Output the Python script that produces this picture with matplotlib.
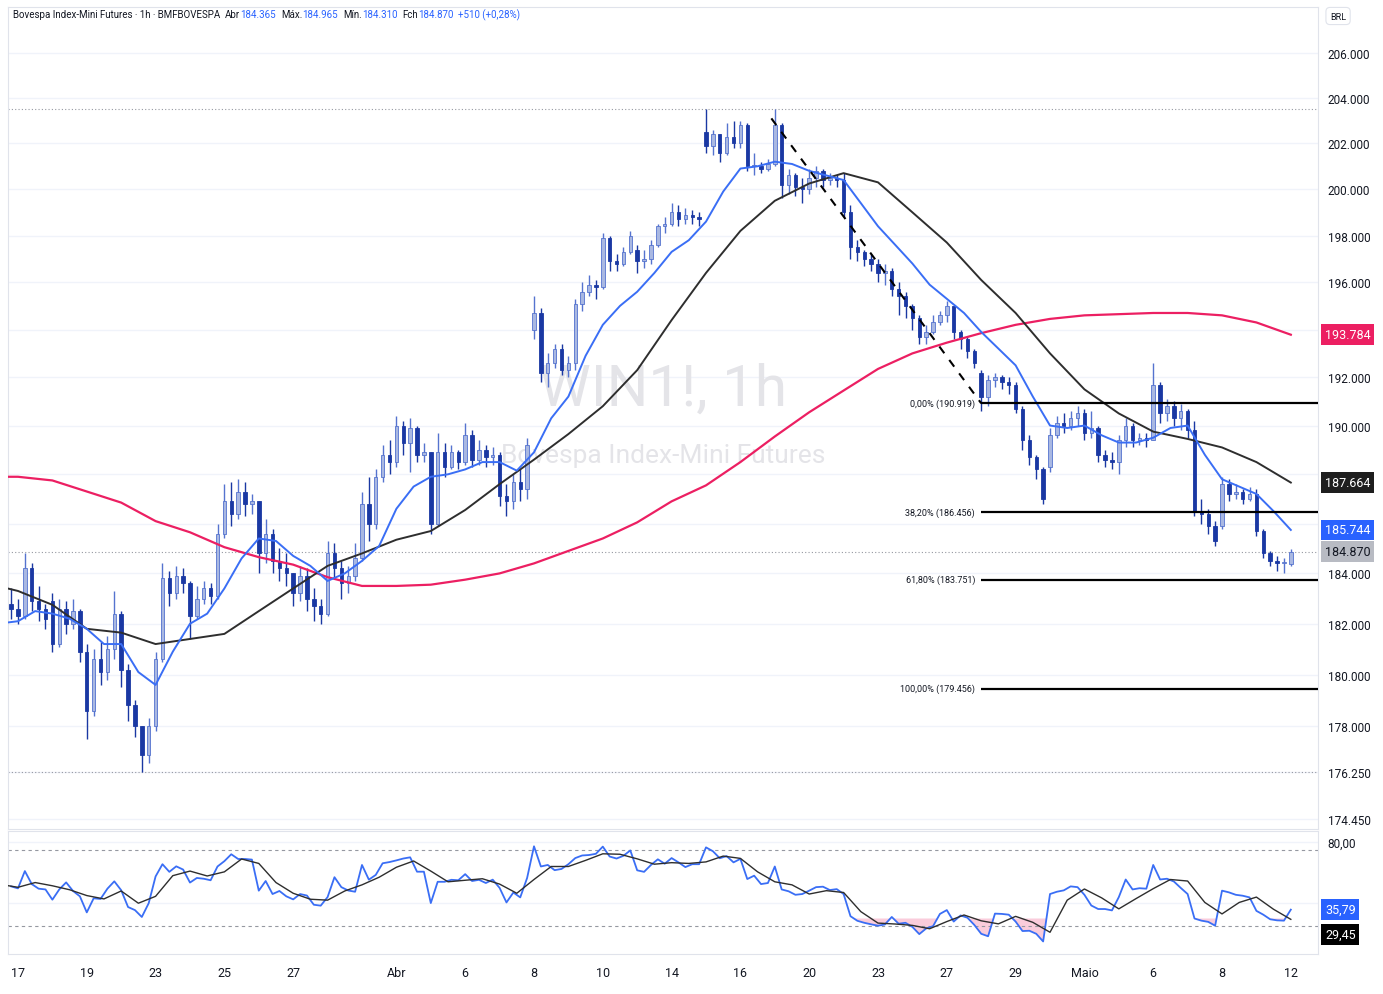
import numpy as np
import matplotlib
matplotlib.use("Agg")
import matplotlib.pyplot as plt
from matplotlib.ticker import FixedLocator, FuncFormatter, NullLocator

W, H = 1383, 995
plt.rcParams["font.family"] = ["Roboto", "DejaVu Sans"]

# ---------------------------------------------------------------------------
# WIN1! in 2-hour steps (5 per session), one bar per row
# group = one session; the first bar is the tail of 16/mar
# ---------------------------------------------------------------------------
opens = [
    182.8,
    182.6, 182.3, 184.2, 182.9, 182.6,
    182.9, 181.2, 182.6, 182.0, 182.5,
    180.9, 178.6, 180.6, 180.1, 181.0,
    182.4, 180.2, 178.8, 178.0, 176.9,
    178.0, 180.6, 183.8, 183.2, 183.9,
    183.6, 182.3, 183.0, 183.4, 183.1,
    185.6, 186.9, 186.4, 187.3, 186.8,
    186.9, 184.8, 185.6, 184.5, 184.2,
    184.0, 183.2, 183.9, 183.0, 182.7,
    182.4, 184.8, 184.2, 183.6, 183.9,
    184.6, 186.8, 186.0, 187.9, 188.8,
    188.5, 190.0, 189.3, 189.9, 188.8,
    188.9, 186.0, 188.9, 188.3, 188.9,
    188.5, 189.6, 188.6, 189.0, 188.7,
    188.8, 187.1, 186.9, 187.7, 187.4,
    194.0, 194.7, 192.2, 192.6, 193.2,
    192.3, 192.6, 195.1, 195.6, 195.9,
    195.8, 197.9, 196.9, 196.8, 197.3,
    197.4, 196.9, 197.0, 197.6, 198.4,
    198.5, 199.0, 198.7, 198.9, 198.8,
    202.5, 201.9, 202.4, 201.6, 202.3,
    202.0, 202.8, 201.0, 201.0, 200.9,
    201.1, 202.8, 200.2, 200.6, 200.1,
    200.0, 200.5, 200.8, 200.4, 200.5,
    200.4, 199.0, 197.5, 197.3, 197.0,
    196.8, 196.4, 196.5, 195.7, 195.4,
    195.0, 194.5, 193.7, 193.9, 194.3,
    194.6, 195.0, 193.9, 193.6, 193.1,
    192.2, 191.2, 191.9, 192.0, 191.8,
    191.7, 190.7, 189.4, 188.7, 188.2,
    188.3, 189.6, 190.1, 190.0, 190.3,
    190.5, 189.7, 189.9, 188.8, 188.6,
    188.5, 189.4, 190.0, 189.4, 189.5,
    189.4, 191.7, 190.5, 190.8, 190.3,
    190.6, 189.8, 186.5, 186.4, 185.9,
    185.9, 187.6, 187.2, 187.3, 187.0,
    187.2, 185.7, 184.8, 184.5, 184.4,
    184.365,
]
highs = [
    183.4,
    183.0, 184.8, 184.4, 183.5, 182.8,
    183.2, 183.0, 182.9, 183.0, 182.6,
    181.2, 181.0, 181.3, 181.5, 183.3,
    182.5, 180.4, 179.0, 178.0, 178.3,
    180.9, 184.4, 184.1, 184.3, 184.2,
    183.7, 183.5, 183.7, 183.6, 186.0,
    187.6, 187.7, 187.8, 187.7, 187.2,
    186.9, 186.2, 185.8, 185.0, 184.8,
    184.0, 184.3, 184.2, 183.4, 183.0,
    185.3, 185.2, 184.5, 184.3, 185.2,
    187.3, 187.9, 188.2, 189.2, 189.4,
    190.4, 190.2, 190.3, 190.0, 189.3,
    188.9, 189.7, 189.3, 189.2, 189.0,
    190.1, 189.8, 189.4, 189.2, 189.1,
    188.9, 187.6, 188.0, 188.2, 189.5,
    195.4, 194.9, 193.0, 193.4, 193.4,
    192.9, 195.3, 196.0, 196.3, 196.1,
    198.1, 198.0, 197.2, 197.5, 198.2,
    197.6, 197.4, 197.8, 198.5, 198.8,
    199.4, 199.3, 199.2, 199.1, 199.0,
    203.5, 202.6, 202.4, 202.9, 203.0,
    203.0, 202.9, 201.6, 201.2, 201.3,
    203.5, 202.9, 200.9, 200.7, 200.5,
    200.9, 201.0, 200.9, 200.7, 200.6,
    200.7, 199.3, 197.8, 197.4, 197.2,
    197.0, 196.8, 196.6, 196.0, 195.6,
    195.1, 194.6, 194.2, 194.6, 194.8,
    195.2, 195.0, 194.0, 193.7, 193.2,
    192.3, 192.1, 192.2, 192.1, 192.0,
    191.8, 190.8, 189.6, 188.8, 188.3,
    189.9, 190.4, 190.5, 190.6, 190.8,
    190.7, 190.6, 190.0, 189.0, 188.9,
    189.6, 190.3, 190.1, 189.7, 189.7,
    192.6, 191.8, 191.1, 191.0, 190.9,
    190.7, 190.2, 187.0, 186.6, 186.1,
    187.9, 187.8, 187.6, 187.4, 187.5,
    187.4, 185.8, 184.9, 184.7, 184.6,
    184.965,
]
lows = [
    182.2,
    182.0, 182.2, 182.5, 182.1, 181.8,
    180.9, 181.1, 181.6, 181.8, 180.5,
    177.5, 178.4, 179.6, 179.8, 180.6,
    179.5, 178.2, 177.6, 176.25, 176.6,
    177.8, 180.5, 182.7, 183.0, 183.2,
    181.4, 182.2, 182.8, 182.8, 183.0,
    185.4, 185.9, 186.2, 186.3, 186.4,
    184.0, 184.4, 184.0, 183.7, 183.5,
    182.7, 182.9, 182.5, 182.1, 182.0,
    182.3, 183.8, 183.0, 183.2, 183.7,
    184.5, 185.3, 185.8, 187.7, 188.0,
    188.3, 188.8, 188.1, 188.5, 188.5,
    185.6, 185.9, 187.9, 188.2, 188.2,
    188.4, 188.3, 188.4, 188.3, 188.4,
    186.7, 186.3, 186.6, 186.9, 187.0,
    193.6, 191.8, 191.6, 192.4, 192.1,
    192.0, 192.3, 194.8, 195.4, 195.3,
    195.7, 196.5, 196.5, 196.7, 197.2,
    196.4, 196.6, 196.8, 197.5, 198.1,
    198.4, 198.4, 198.5, 198.5, 198.4,
    201.6, 201.5, 201.2, 201.5, 201.8,
    201.8, 200.8, 200.6, 200.7, 200.8,
    201.0, 199.6, 199.8, 199.7, 199.4,
    199.8, 200.1, 200.1, 200.2, 200.1,
    198.8, 197.0, 196.9, 196.7, 196.5,
    196.0, 195.9, 195.4, 194.6, 194.5,
    194.0, 193.4, 193.4, 193.8, 194.2,
    194.3, 193.6, 193.2, 192.8, 192.4,
    190.6, 190.8, 191.6, 191.5, 191.3,
    190.5, 189.0, 188.4, 187.8, 186.8,
    188.1, 189.5, 189.7, 189.8, 190.0,
    189.4, 189.5, 188.5, 188.3, 188.2,
    188.0, 189.1, 189.1, 189.2, 189.1,
    189.4, 190.1, 190.2, 190.0, 189.8,
    189.5, 186.3, 186.0, 185.6, 185.1,
    185.8, 186.9, 187.0, 186.8, 186.9,
    185.5, 184.6, 184.3, 184.1, 184.0,
    184.310,
]
closes = [
    182.6,
    182.3, 184.2, 182.9, 182.6, 182.2,
    181.2, 182.6, 182.0, 182.5, 180.9,
    178.6, 180.6, 180.1, 181.0, 182.4,
    180.2, 178.8, 178.0, 176.9, 178.0,
    180.6, 183.8, 183.2, 183.9, 183.6,
    182.3, 183.0, 183.4, 183.1, 185.6,
    186.9, 186.4, 187.3, 186.8, 186.9,
    184.8, 185.6, 184.5, 184.2, 184.0,
    183.2, 183.9, 183.0, 182.7, 182.4,
    184.8, 184.2, 183.6, 183.9, 184.6,
    186.8, 186.0, 187.9, 188.8, 188.5,
    190.0, 189.3, 189.9, 188.8, 188.9,
    186.0, 188.9, 188.3, 188.9, 188.5,
    189.6, 188.6, 189.0, 188.7, 188.8,
    187.1, 186.9, 187.7, 187.4, 189.2,
    194.7, 192.2, 192.6, 193.2, 192.3,
    192.6, 195.1, 195.6, 195.9, 195.8,
    197.9, 196.9, 196.8, 197.3, 198.0,
    196.9, 197.0, 197.6, 198.4, 198.5,
    199.0, 198.7, 198.9, 198.8, 198.7,
    201.9, 202.4, 201.6, 202.3, 202.0,
    202.8, 201.0, 201.0, 200.9, 201.1,
    202.8, 200.2, 200.6, 200.1, 200.0,
    200.5, 200.8, 200.4, 200.5, 200.4,
    199.0, 197.5, 197.3, 197.0, 196.8,
    196.4, 196.5, 195.7, 195.4, 195.0,
    194.5, 193.7, 193.9, 194.3, 194.6,
    195.0, 193.9, 193.6, 193.1, 192.6,
    191.2, 191.9, 192.0, 191.8, 191.7,
    190.7, 189.4, 188.7, 188.2, 187.0,
    189.6, 190.1, 190.0, 190.3, 190.5,
    189.7, 189.9, 188.8, 188.6, 188.5,
    189.4, 190.0, 189.4, 189.5, 189.4,
    191.7, 190.5, 190.8, 190.3, 190.6,
    189.8, 186.5, 186.4, 185.9, 185.3,
    187.6, 187.2, 187.3, 187.0, 187.2,
    185.7, 184.8, 184.5, 184.4, 184.4,
    184.870,
]

# RSI(14), same bars as above
rsi = [
    51.0,
    49.7, 61.0, 52.5, 49.5, 49.0,
    42.3, 49.0, 53.6, 48.0, 44.5,
    34.0, 43.2, 42.8, 49.5, 54.3,
    48.5, 37.5, 35.5, 31.0, 40.0,
    57.5, 65.5, 60.5, 64.1, 62.0,
    53.5, 56.5, 56.0, 55.0, 64.0,
    67.5, 72.0, 68.9, 68.9, 68.5,
    48.2, 54.5, 46.0, 48.0, 44.5,
    42.5, 46.0, 45.0, 39.0, 38.4,
    44.0, 57.0, 50.5, 48.3, 47.5,
    65.0, 55.4, 58.5, 66.1, 66.9,
    68.0, 69.2, 70.0, 60.6, 60.6,
    40.1, 54.0, 54.0, 55.3, 55.0,
    59.0, 54.5, 55.3, 53.2, 55.4,
    50.0, 40.5, 47.0, 43.8, 56.5,
    77.2, 64.0, 65.0, 61.6, 62.4,
    65.5, 69.5, 71.2, 71.5, 72.3,
    77.0, 70.5, 69.2, 71.0, 74.5,
    61.5, 60.5, 65.0, 68.7, 65.8,
    69.5, 66.7, 63.6, 65.5, 65.5,
    76.5, 74.0, 69.4, 70.8, 66.7,
    69.0, 55.8, 58.0, 52.5, 53.2,
    64.0, 49.0, 47.8, 45.5, 46.0,
    48.2, 50.5, 50.8, 48.6, 49.2,
    46.0, 31.5, 28.5, 27.2, 26.2,
    25.3, 26.1, 31.0, 26.6, 27.2,
    24.5, 19.8, 23.5, 25.0, 33.0,
    35.5, 28.0, 32.0, 30.5, 25.8,
    20.0, 18.4, 33.2, 33.0, 32.5,
    28.0, 21.8, 22.0, 20.0, 15.0,
    46.0, 47.5, 48.4, 51.0, 50.5,
    45.5, 38.5, 36.2, 36.2, 35.3,
    44.0, 55.5, 49.0, 49.8, 49.5,
    65.0, 55.5, 56.0, 54.2, 50.0,
    46.0, 30.0, 28.6, 27.8, 25.3,
    48.2, 47.1, 45.5, 44.9, 43.8,
    35.0, 32.5, 29.5, 28.8, 28.6,
    35.79,
]

# moving averages; fast one and the RSI average every half session,
# the two slow ones once per session
ma_fast = [
    182.05, 182.1, 182.5, 182.4, 182.2, 181.8, 181.2, 181.2, 180.1, 179.6,
    180.9, 182.0, 182.4, 183.4, 184.6, 185.4, 185.3, 184.7, 184.3, 183.7,
    184.0, 184.5, 185.1, 186.6, 187.5, 187.9, 188.0, 188.2, 188.5, 188.5,
    188.15, 188.9, 190.3, 191.2, 192.9, 194.2, 195.0, 195.6, 196.4, 197.3,
    197.8, 198.6, 199.9, 200.9, 201.0, 201.2, 201.1, 200.8, 200.6, 200.4,
    199.4, 198.4, 197.6, 196.8, 195.9, 195.3, 194.7, 193.9, 193.2, 192.5,
    191.2, 190.0, 189.9, 190.0, 189.6, 189.3, 189.3, 189.5, 189.9, 190.0,
    188.8, 187.8, 187.5, 187.2, 186.5, 185.744,
]
ma_mid = [
    183.4, 183.3, 182.75, 181.8, 181.65, 181.2, 181.4, 181.6, 182.5, 183.4,
    184.3, 184.8, 185.35, 185.7, 186.55, 187.6, 188.6, 189.65, 190.8, 192.3,
    194.4, 196.4, 198.2, 199.5, 200.25, 200.7, 200.3, 199.0, 197.7, 196.1,
    194.7, 193.0, 191.5, 190.5, 189.75, 189.45, 189.1, 188.5, 187.664,
]
ma_slow = [
    187.9, 187.9, 187.75, 187.3, 186.85, 186.1, 185.65, 185.05, 184.65, 184.35,
    183.85, 183.5, 183.5, 183.55, 183.75, 184.0, 184.4, 184.9, 185.4, 186.05,
    186.9, 187.55, 188.5, 189.55, 190.55, 191.45, 192.35, 193.0, 193.45, 193.85,
    194.2, 194.45, 194.6, 194.65, 194.7, 194.7, 194.6, 194.3, 193.784,
]
rsi_ma = [
    51.5, 50.4, 53.5, 51.4, 48.8, 45.0, 42.8, 48.0, 40.0, 44.5,
    58.0, 61.0, 57.8, 60.5, 68.9, 66.0, 53.5, 46.5, 42.6, 42.0,
    48.0, 52.0, 57.0, 63.5, 67.6, 61.0, 54.0, 55.0, 56.0, 52.5,
    46.5, 55.5, 64.0, 64.0, 68.0, 72.3, 72.0, 69.0, 65.5, 66.5,
    66.0, 67.0, 70.8, 69.3, 60.5, 54.0, 52.0, 46.0, 48.2, 47.0,
    34.5, 27.0, 26.4, 25.5, 23.3, 28.0, 32.3, 28.5, 26.5, 31.4,
    27.5, 21.0, 42.0, 49.3, 43.5, 36.3, 43.0, 49.5, 55.5, 54.5,
    40.5, 33.0, 40.5, 44.0, 36.0, 29.45,
]

fib_levels = [190.919, 186.456, 183.751, 179.456]
fib_names = ["0,00%", "38,20%", "61,80%", "100,00%"]
fib_swing = [203.1, 190.919]

price_ticks = [206, 204, 202, 200, 198, 196, 194, 192, 190, 188, 186,
               184, 182, 180, 178, 176.25, 174.45]
hidden_ticks = [194, 188, 186]          # covered by the price tags
date_ticks = [0, 2, 4, 6, 8, 11, 13, 15, 17, 19, 21, 23, 25, 27, 29, 31, 33, 35, 37]
date_labels = ["17", "19", "23", "25", "27", "Abr", "6", "8", "10", "14", "16",
               "20", "23", "27", "29", "Maio", "6", "8", "12"]

header = [
    ("Bovespa Index-Mini Futures · 1h · BMFBOVESPA", "#131722"),
    ("Abr", "#131722"), ("184.365", "#2962ff"),
    ("Máx.", "#131722"), ("184.965", "#2962ff"),
    ("Mín.", "#131722"), ("184.310", "#2962ff"),
    ("Fch", "#131722"), ("184.870", "#2962ff"),
    ("+510 (+0,28%)", "#2962ff"),
]

# ---------------------------------------------------------------------------
o, h, l, c = (np.array(v) for v in (opens, highs, lows, closes))
rsi = np.array(rsi)
n = len(c)
t = np.arange(n) * 0.2 - 0.2                       # session units
t_half = np.concatenate([[-0.3], np.arange(0, 37.01, 0.5)])
t_day = np.concatenate([[-0.3], np.arange(0, 38)])
x0, x1 = -0.29, 37.79

TXT = "#131722"
GRID = "#f0f3fa"
BORDER = "#e0e3eb"
BLUE = "#2962ff"
PINK = "#ec1f62"
WMARK = "#e4e4e8"

fig = plt.figure(figsize=(W / 100, H / 100), dpi=100)
ax = fig.add_axes([8 / W, 1 - 830 / H, 1310 / W, 822 / H])
ax2 = fig.add_axes([8 / W, 1 - 955 / H, 1310 / W, 123 / H], sharex=ax)

# --- price panel -----------------------------------------------------------
ax.set_yscale("log")
ax.set_ylim(174.07, 208.07)
ax.set_xlim(x0, x1)

up = c >= o
col_body = ["#a9b8e2" if u else "#1a38a3" for u in up]
col_edge = ["#5573cf" if u else "#1a38a3" for u in up]
ax.vlines(t, l, h, colors=col_edge, lw=1.0, zorder=3)
ax.bar(t, np.maximum(np.abs(c - o), 0.05), bottom=np.minimum(o, c), width=0.1,
       color=col_body, edgecolor=col_edge, linewidth=0.6, zorder=4)

ax.plot(t_day, ma_slow, color=PINK, lw=1.6, zorder=5)
ax.plot(t_day, ma_mid, color="#2e2e2e", lw=1.4, zorder=5)
ax.plot(t_half, ma_fast, color="#3a6ef5", lw=1.4, zorder=5)

# range high / low and last price
ax.axhline(h.max(), color="#9598a1", lw=0.8, ls=(0, (1, 2)), zorder=2)
ax.axhline(l.min(), color="#9598a1", lw=0.8, ls=(0, (1, 2)), zorder=2)
ax.axhline(c[-1], color="#9598a1", lw=0.8, ls=(0, (1, 2)), zorder=2)

# fibonacci tool
fib_start = 28.0
ax.plot([21.9, fib_start], fib_swing, color="black", lw=1.5, ls=(0, (4, 4)), zorder=6)
for lvl, name in zip(fib_levels, fib_names):
    ax.hlines(lvl, fib_start, x1, color="black", lw=1.6, zorder=6)
    ax.text(27.82, lvl, f"{name} ({lvl:.3f})", ha="right", va="center",
            fontsize=6.5, color=TXT, zorder=6)

# watermark
ax.text(0.5, 0.535, "WIN1!, 1h", transform=ax.transAxes, ha="center", va="center",
        fontsize=42, color=WMARK, zorder=1)
ax.text(0.5, 0.455, "Bovespa Index-Mini Futures", transform=ax.transAxes,
        ha="center", va="center", fontsize=19, color=WMARK, zorder=1)

ax.yaxis.set_major_locator(FixedLocator(price_ticks))
ax.yaxis.set_minor_locator(NullLocator())
ax.yaxis.set_major_formatter(
    FuncFormatter(lambda v, _: "" if round(v, 2) in hidden_ticks else f"{v:.3f}"))
ax.yaxis.tick_right()
ax.tick_params(axis="y", length=0, pad=7, labelsize=8.5, labelcolor=TXT)
ax.tick_params(axis="x", bottom=False, labelbottom=False)
ax.grid(axis="y", color=GRID, lw=1)
ax.set_axisbelow(True)


def tag(axis, y, text, fc, tc="white", dy=0):
    axis.annotate(text, xy=(1, y), xycoords=("axes fraction", "data"),
                  xytext=(5, dy), textcoords="offset points", ha="left", va="center",
                  fontsize=9, color=tc, annotation_clip=False, zorder=10,
                  bbox=dict(boxstyle="square,pad=0.3", fc=fc, ec="none"))


tag(ax, ma_slow[-1], f"{ma_slow[-1]:.3f}", PINK)
tag(ax, ma_mid[-1], f"{ma_mid[-1]:.3f}", "#1e1e1e")
tag(ax, ma_fast[-1], f"{ma_fast[-1]:.3f}", BLUE)
tag(ax, c[-1], f"{c[-1]:.3f}", "#b8bbc3", tc=TXT)

# --- RSI panel -------------------------------------------------------------
ax2.set_ylim(6.8, 87.2)
ax2.axhline(75, color="#9598a1", lw=0.8, ls=(0, (3, 3)))
ax2.axhline(25, color="#9598a1", lw=0.8, ls=(0, (3, 3)))
ax2.fill_between(t, rsi, 30, where=rsi < 30, interpolate=True,
                 color="#f48fb1", alpha=0.45, lw=0)
ax2.plot(t, rsi, color="#3a6ef5", lw=1.3, zorder=4)
ax2.plot(t_half, rsi_ma, color="#2e2e2e", lw=1.0, zorder=5)

ax2.yaxis.tick_right()
ax2.set_yticks([80, 40])
ax2.set_yticklabels(["80,00", ""])       # 40,00 sits under the RSI tags
ax2.tick_params(axis="y", length=0, pad=7, labelsize=8.5, labelcolor=TXT)
ax2.grid(axis="y", color=GRID, lw=1)
ax2.set_axisbelow(True)
ax2.set_xticks(date_ticks)
ax2.set_xticklabels(date_labels)
ax2.tick_params(axis="x", length=0, pad=9, labelsize=9, labelcolor=TXT)
ax2.set_xlim(x0, x1)

tag(ax2, rsi[-1], f"{rsi[-1]:.2f}".replace(".", ","), BLUE)
tag(ax2, rsi_ma[-1], f"{rsi_ma[-1]:.2f}".replace(".", ","), "#000000", dy=-11)

for a in (ax, ax2):
    for s in a.spines.values():
        s.set_color(BORDER)
        s.set_linewidth(0.8)

# --- header line and currency box -----------------------------------------
renderer = fig.canvas.get_renderer()
xpos = 13
for i, (txt, col) in enumerate(header):
    tt = fig.text(xpos / W, 1 - 15 / H, txt, color=col, fontsize=7, ha="left", va="center")
    bb = tt.get_window_extent(renderer)
    gap = 5 if col == "#2962ff" or i == 0 else 0
    xpos = bb.x1 + gap

fig.text(1330 / W, 1 - 17 / H, "BRL", fontsize=6.5, color=TXT, ha="left", va="center",
         bbox=dict(boxstyle="round,pad=0.45", fc="white", ec=BORDER, lw=0.8))

fig.savefig("out.png", dpi=100, facecolor="white")
